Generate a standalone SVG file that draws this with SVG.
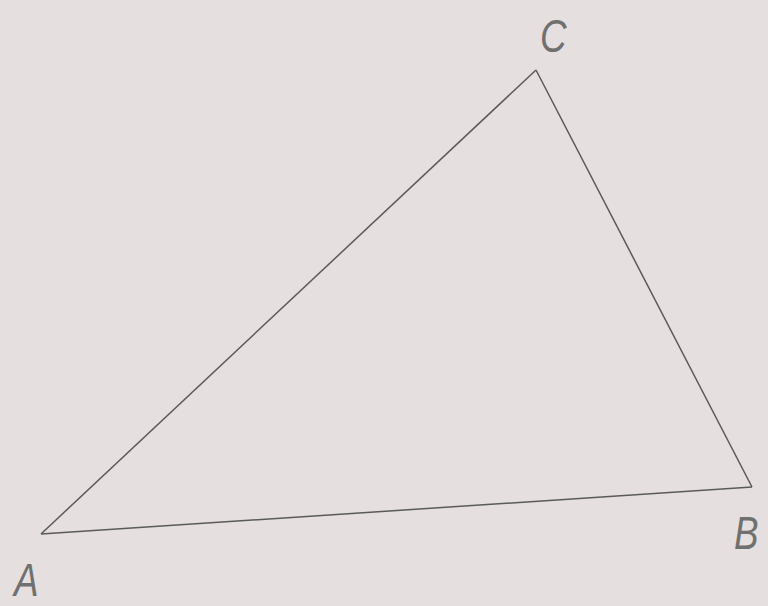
<svg xmlns="http://www.w3.org/2000/svg" width="768" height="606" viewBox="0 0 768 606">
<style>
.lbl{font-family:"Liberation Sans","DejaVu Sans",sans-serif;font-size:46px;font-style:italic;fill:#707070}
.edge{stroke:#5a5a5a;stroke-width:1.5;fill:none;stroke-linejoin:round}
</style>
<rect width="768" height="606" fill="#e5dfdf"/>
<g id="connectors">
<line class="edge" x1="41" y1="534" x2="536" y2="70"/>
<line class="edge" x1="536" y1="70" x2="752" y2="487"/>
<line class="edge" x1="41" y1="534" x2="752" y2="487"/>
</g>
<g id="C"><text class="lbl" x="540" y="52" transform="translate(540 52) scale(0.8 1) translate(-540 -52)">C</text></g>
<g id="B"><text class="lbl" x="734" y="549" transform="translate(734 549) scale(0.8 1) translate(-734 -549)">B</text></g>
<g id="A"><text class="lbl" x="14" y="596" transform="translate(14 596) scale(0.8 1) translate(-14 -596)">A</text></g>
</svg>
